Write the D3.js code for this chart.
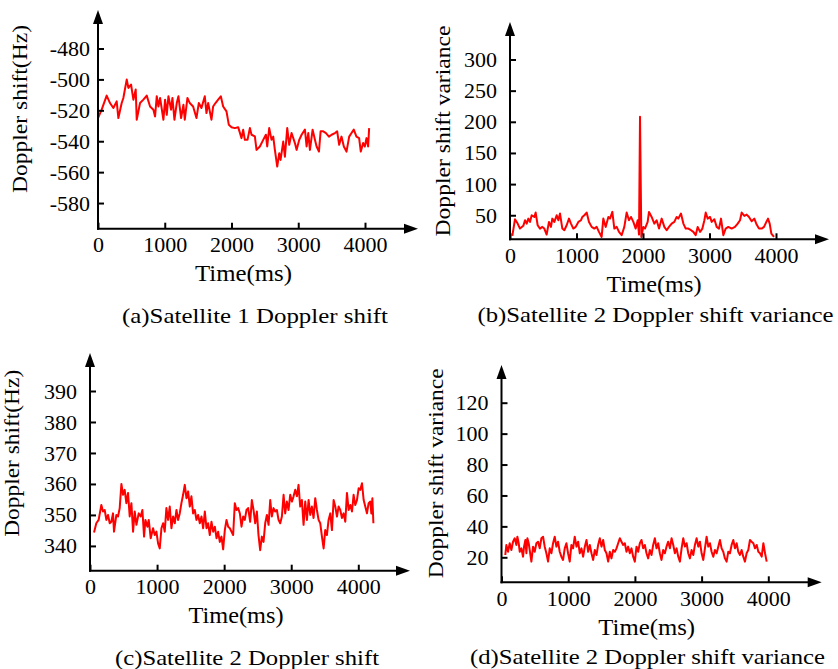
<!DOCTYPE html>
<html><head><meta charset="utf-8">
<script src="https://cdn.jsdelivr.net/npm/d3@7"></script>
<style>body{margin:0;background:#fff}</style>
</head><body>
<svg id="chart" width="838" height="669" xmlns="http://www.w3.org/2000/svg"></svg>
<script>
// ---------- data ----------
const xTicks = [0, 1000, 2000, 3000, 4000];
const yTicksA = [-480, -500, -520, -540, -560, -580];
const yTicksB = [50, 100, 150, 200, 250, 300];
const yTicksC = [340, 350, 360, 370, 380, 390];
const yTicksD = [20, 40, 60, 80, 100, 120];

// (a) Satellite 1 Doppler shift (Hz)
const timeA = [0,55,130,180,230,280,305,355,380,430,455,495,530,565,580,630,680,730,780,830,855,880,905,930,980,1005,1030,1055,1095,1115,1145,1180,1205,1245,1280,1300,1340,1375,1425,1475,1510,1550,1600,1625,1650,1700,1725,1760,1800,1840,1875,1925,1960,2000,2050,2100,2150,2175,2200,2240,2275,2300,2350,2375,2425,2475,2515,2535,2565,2600,2625,2650,2685,2715,2735,2775,2800,2835,2865,2900,2950,2975,3015,3050,3100,3125,3150,3175,3215,3250,3275,3310,3335,3375,3415,3460,3500,3550,3583,3613,3648,3683,3723,3763,3798,3832,3872,3912,3937,3972,3997,4022,4047,4062];
const shiftA = [-525,-519.6,-510.5,-515.3,-518.5,-514.2,-525.0,-515.3,-512.0,-500.1,-505.5,-503.3,-513.1,-506.5,-526.1,-515.3,-513.1,-510.5,-517.5,-519.6,-524.0,-510.9,-517.5,-512.0,-526.1,-513.1,-522.9,-510.9,-519.6,-512.0,-526.1,-515.3,-510.9,-525.0,-516.4,-526.1,-512.0,-515.3,-517.5,-525.0,-515.3,-518.5,-510.9,-521.8,-515.3,-526.1,-517.5,-515.3,-513.1,-510.9,-517.5,-520.7,-529.4,-530.9,-531.5,-530.9,-538.0,-532.6,-539.1,-539.1,-531.5,-535.8,-536.9,-545.6,-543.4,-539.1,-535.8,-543.4,-531.5,-539.1,-537.0,-545.6,-556.4,-547.8,-552.1,-540.2,-550.0,-531.5,-542.3,-534.7,-541.2,-545.6,-539.1,-535.8,-532.5,-543.4,-534.7,-545.6,-532.5,-539.1,-543.4,-546.7,-533.6,-533.6,-534.7,-537.0,-535.8,-534.7,-533.6,-542.3,-537.0,-543.4,-546.7,-537.0,-534.7,-532.5,-537.0,-538.0,-546.7,-541.2,-543.4,-538.0,-543.4,-531.5];

// (b) Satellite 2 Doppler shift variance
const timeB = [35,75,115,150,200,226,251,276,301,326,366,386,416,451,486,516,551,586,616,636,667,702,727,752,787,817,852,887,917,952,988,1028,1068,1088,1118,1153,1188,1228,1268,1303,1338,1378,1403,1439,1479,1504,1539,1569,1604,1639,1679,1719,1754,1789,1819,1855,1890,1920,1940,1955,1975,2005,2030,2070,2090,2130,2170,2205,2241,2281,2321,2356,2391,2431,2471,2506,2531,2571,2607,2642,2682,2722,2757,2792,2822,2858,2893,2923,2943,2973,3008,3033,3073,3108,3143,3173,3208,3243,3283,3333,3383,3424,3459,3484,3524,3559,3594,3634,3674,3709,3744,3784,3820,3855,3880,3905,3930,3970];
const varB = [16.8,43.6,36.6,28.6,33.0,42.0,36.6,44.6,39.3,50.0,47.3,54.3,34.0,28.6,31.3,28.6,19.0,39.3,31.3,44.6,39.3,50.0,42.0,52.7,28.6,26.0,34.0,44.6,36.6,28.6,31.3,39.3,42.0,47.3,50.0,54.3,39.3,31.3,28.6,31.3,23.3,15.2,44.6,31.3,47.3,44.6,55.4,28.6,31.3,23.3,18.0,31.3,54.3,42.0,47.3,39.3,28.6,42.0,19.0,208,15.0,31.3,28.6,39.3,55.4,47.3,36.6,42.0,28.6,44.6,31.3,26.0,31.3,36.6,39.3,47.3,44.6,52.7,36.6,28.6,28.6,26.0,23.3,18.0,31.3,23.3,28.6,42.0,54.3,44.6,47.3,39.3,43.6,31.3,28.6,44.6,18.0,28.6,31.3,28.6,31.3,36.6,42.0,54.3,48.9,51.0,47.3,40.4,44.6,35.0,28.6,28.6,31.3,39.3,44.6,36.6,20.6,15.2];

// (c) Satellite 2 Doppler shift (Hz)
const timeC = [60,94,129,169,194,219,244,269,294,318,343,358,393,418,443,468,493,517,542,567,592,617,642,667,692,726,756,781,806,826,856,876,905,940,965,990,1015,1040,1065,1090,1114,1139,1164,1189,1214,1239,1264,1289,1313,1338,1363,1388,1413,1438,1463,1488,1512,1537,1562,1587,1612,1637,1662,1687,1712,1737,1761,1786,1811,1836,1861,1886,1910,1935,1960,1985,2010,2035,2060,2085,2109,2134,2159,2184,2209,2234,2259,2284,2308,2333,2358,2388,2413,2438,2463,2488,2512,2537,2562,2587,2612,2637,2662,2687,2711,2736,2761,2786,2811,2836,2861,2886,2910,2935,2960,2985,3010,3035,3060,3085,3109,3134,3159,3184,3209,3234,3259,3284,3308,3333,3358,3383,3408,3433,3458,3483,3507,3532,3557,3582,3607,3632,3657,3682,3706,3731,3756,3781,3806,3831,3856,3881,3906,3930,3955,3980,4005,4030,4055,4080,4104,4129,4154,4179,4194,4210,4225];
const shiftC = [344.3,347.3,348.4,353.2,351.1,351.6,348.4,350.0,347.3,347.8,350.5,344.6,350.0,349.5,352.2,360.0,356.5,358.1,353.8,357.1,349.5,353.8,344.6,351.1,346.8,350.5,349.5,351.6,343.0,348.4,346.2,348.4,342.5,345.7,343.5,344.6,340.8,339.2,345.7,347.3,344.6,352.2,348.4,352.7,345.7,349.5,347.3,351.6,348.4,350.5,353.8,356.5,359.7,355.4,357.6,352.7,356.0,350.5,351.6,348.4,350.0,347.3,349.5,345.7,351.1,345.7,347.3,343.5,347.8,344.6,346.2,342.5,344.6,341.3,343.0,338.9,345.1,348.4,346.2,345.7,344.6,343.5,353.8,351.6,352.2,350.5,346.2,349.5,348.4,351.6,352.2,347.8,354.8,351.6,347.3,351.1,343.5,338.6,343.0,341.3,347.3,350.0,346.8,354.8,349.5,352.2,351.1,351.6,348.4,347.3,349.5,356.5,350.5,354.3,351.6,356.5,354.3,356.0,358.1,356.0,359.7,352.7,354.8,346.8,354.3,348.4,354.8,350.0,352.7,349.0,355.4,351.6,348.4,347.3,343.0,339.2,345.1,343.5,348.4,350.5,345.1,354.8,352.7,349.5,352.7,351.6,349.0,350.5,347.8,357.1,351.6,353.2,351.1,356.5,353.2,354.8,358.6,358.1,360.2,354.8,352.7,350.5,353.8,354.3,350.5,355.4,347.3];

// (d) Satellite 2 Doppler shift variance
const timeD = [57,73,98,123,148,173,198,223,238,258,273,298,323,338,358,373,388,408,423,448,473,498,523,548,573,598,623,648,673,698,723,748,773,798,823,848,873,898,923,948,973,998,1023,1048,1073,1098,1124,1149,1174,1199,1224,1249,1274,1299,1324,1349,1374,1399,1424,1449,1474,1499,1524,1549,1574,1599,1624,1649,1674,1699,1724,1749,1774,1799,1824,1849,1874,1899,1924,1949,1974,1999,2024,2049,2074,2099,2124,2149,2174,2199,2224,2249,2274,2299,2324,2349,2374,2399,2424,2449,2474,2499,2525,2550,2575,2600,2625,2650,2675,2700,2725,2750,2775,2800,2825,2850,2875,2900,2925,2950,2975,3000,3025,3050,3075,3100,3125,3150,3175,3200,3225,3250,3275,3300,3325,3350,3375,3400,3425,3450,3475,3500,3525,3550,3575,3600,3625,3650,3675,3700,3725,3750,3776,3801,3826,3851,3876,3901,3926,3951,3976];
const varD = [21.5,28.0,23.6,29.1,24.7,30.1,32.3,28.0,33.3,29.1,23.6,25.8,20.4,26.9,31.2,22.6,32.3,29.1,24.7,17.2,26.9,23.6,29.1,30.1,25.8,32.3,33.3,26.9,22.6,17.2,25.8,22.6,29.1,33.3,26.9,30.1,23.6,20.4,18.3,25.8,29.1,22.6,17.2,28.0,25.8,33.3,26.9,30.1,22.6,25.8,20.4,26.9,31.2,23.6,28.0,22.6,18.3,24.7,21.5,28.0,32.3,26.9,31.2,24.7,22.6,17.2,23.6,19.3,24.7,23.6,25.8,29.1,32.3,30.1,28.0,29.1,23.6,26.9,22.6,25.8,20.4,17.2,26.9,23.6,29.1,31.2,25.8,28.0,22.6,19.3,24.7,21.5,28.0,32.3,25.8,29.1,22.6,18.3,24.7,22.6,26.9,30.1,25.8,32.3,28.0,22.6,25.8,20.4,17.2,25.8,32.3,26.9,29.1,22.6,19.3,24.7,21.5,28.0,32.3,26.9,30.1,22.6,18.3,25.8,33.3,26.9,29.1,23.6,20.4,24.7,22.6,26.9,31.2,25.8,23.6,19.3,17.2,23.6,22.6,28.0,31.2,25.8,29.1,23.6,21.5,24.7,20.4,17.2,22.6,24.7,31.2,30.1,29.1,25.8,28.0,23.6,22.6,20.4,29.1,22.6,17.2];

const yTitles = ["Doppler shift(Hz)", "Doppler shift variance", "Doppler shift(Hz)", "Doppler shift variance"];
const xTitle = "Time(ms)";
const captions = ["(a)Satellite 1 Doppler shift", "(b)Satellite 2 Doppler shift variance", "(c)Satellite 2 Doppler shift", "(d)Satellite 2 Doppler shift variance"];

// ---------- layout ----------
const layout = [
  {t: timeA, v: shiftA, yTicks: yTicksA, xr: [98, 365], yd: [-596.6, -480], yr: [228.7, 48.5], yTop: 10, xEnd: 418, pad: 8,
   yt: {x: 26.7, y: 109, len: 168}, xt: {x: 243.5, len: 97}, cap: {x: 255, y: 323, len: 266}},
  {t: timeB, v: varB, yTicks: yTicksB, xr: [510, 776], yd: [11.4, 300], yr: [239.3, 59.5], yTop: 22, xEnd: 829, pad: 13,
   yt: {x: 450, y: 131, len: 211}, xt: {x: 654, len: 95}, cap: {x: 655.5, y: 321.5, len: 356}},
  {t: timeC, v: shiftC, yTicks: yTicksC, xr: [90, 358.3], yd: [332, 390], yr: [570.7, 391], yTop: 353, xEnd: 410, pad: 13,
   yt: {x: 19.3, y: 453.3, len: 167}, xt: {x: 236, len: 95}, cap: {x: 247, y: 665, len: 264}},
  {t: timeD, v: varD, yTicks: yTicksD, xr: [501.5, 768.3], yd: [3.83, 120], yr: [582.3, 402.7], yTop: 365, xEnd: 821.7, pad: 13,
   yt: {x: 442.7, y: 473.3, len: 210}, xt: {x: 646.7, len: 96.7}, cap: {x: 647.5, y: 663.5, len: 355}}
];

const FONT = "'Liberation Serif', 'Times New Roman', Times, serif";
const svg = d3.select("#chart");
svg.append("rect").attr("width", 838).attr("height", 669).attr("fill", "#fff");

layout.forEach((p, i) => {
  const x = d3.scaleLinear().domain([0, 4000]).range(p.xr);
  const y = d3.scaleLinear().domain(p.yd).range(p.yr);
  const x0 = p.xr[0], y0 = p.yr[0];
  const g = svg.append("g");

  // data line
  const pts = p.t.map((t, k) => [t, p.v[k]]);
  g.append("path").datum(pts)
    .attr("fill", "none").attr("stroke", "#ff0000").attr("stroke-width", 2)
    .attr("stroke-linejoin", "round")
    .attr("d", d3.line().x(d => x(d[0])).y(d => y(d[1])));

  // axes with ticks
  const ax = g.append("g").attr("transform", `translate(0,${y0})`)
    .call(d3.axisBottom(x).tickValues(xTicks).tickSizeInner(-6).tickSizeOuter(0).tickPadding(8).tickFormat(d3.format("d")));
  const ay = g.append("g").attr("transform", `translate(${x0},0)`)
    .call(d3.axisLeft(y).tickValues(p.yTicks).tickSizeInner(-6).tickSizeOuter(0).tickPadding(p.pad).tickFormat(d => String(d).replace("\u2212", "-")));
  [ax, ay].forEach(a => {
    a.attr("font-family", FONT).attr("font-size", 22);
    a.select(".domain").remove();
    a.selectAll(".tick line").attr("stroke", "#000").attr("stroke-width", 2);
    a.selectAll(".tick text").attr("fill", "#000");
  });

  // axis lines with arrows
  g.append("line").attr("x1", x0 - 1).attr("y1", y0).attr("x2", p.xEnd - 10).attr("y2", y0)
    .attr("stroke", "#000").attr("stroke-width", 2);
  g.append("line").attr("x1", x0).attr("y1", y0 + 1).attr("x2", x0).attr("y2", p.yTop + 10)
    .attr("stroke", "#000").attr("stroke-width", 2);
  g.append("path").attr("d", `M${p.xEnd},${y0} L${p.xEnd - 14},${y0 - 5} L${p.xEnd - 14},${y0 + 5} Z`).attr("fill", "#000");
  g.append("path").attr("d", `M${x0},${p.yTop} L${x0 - 5},${p.yTop + 14} L${x0 + 5},${p.yTop + 14} Z`).attr("fill", "#000");

  // titles
  g.append("text").attr("x", p.xt.x).attr("y", y0 + 52.5)
    .attr("text-anchor", "middle").attr("font-family", FONT).attr("font-size", 23)
    .attr("textLength", p.xt.len).attr("lengthAdjust", "spacingAndGlyphs").text(xTitle);
  g.append("text").attr("transform", `translate(${p.yt.x},${p.yt.y}) rotate(-90)`)
    .attr("text-anchor", "middle").attr("font-family", FONT).attr("font-size", 22)
    .attr("textLength", p.yt.len).attr("lengthAdjust", "spacingAndGlyphs").text(yTitles[i]);
  g.append("text").attr("x", p.cap.x).attr("y", p.cap.y)
    .attr("text-anchor", "middle").attr("font-family", FONT).attr("font-size", 22)
    .attr("textLength", p.cap.len).attr("lengthAdjust", "spacingAndGlyphs").text(captions[i]);
});
</script>
</body></html>
